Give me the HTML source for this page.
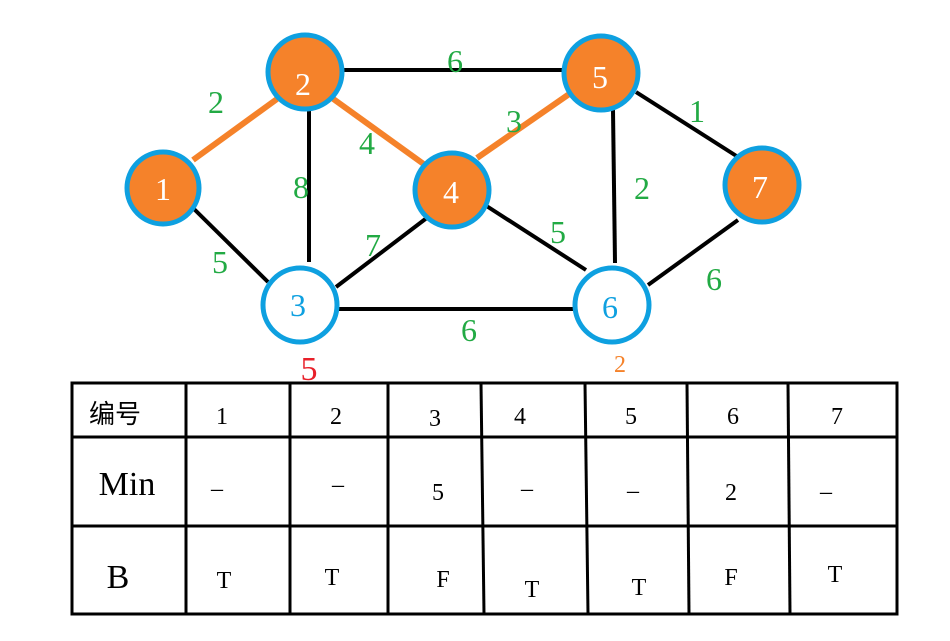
<!DOCTYPE html>
<html><head><meta charset="utf-8"><style>body{margin:0;background:#fff}svg{display:block}</style></head><body>
<svg width="950" height="641" xmlns="http://www.w3.org/2000/svg" font-family="Liberation Serif, Noto Serif CJK SC, serif">
<g stroke="#000" stroke-width="4">
<line x1="344" y1="70" x2="566" y2="70"/>
<line x1="309" y1="110" x2="309" y2="262"/>
<line x1="193" y1="208" x2="268" y2="282"/>
<line x1="336" y1="287" x2="428" y2="217"/>
<line x1="336" y1="309" x2="578" y2="309"/>
<line x1="485" y1="205" x2="586" y2="270"/>
<line x1="613" y1="110" x2="615" y2="263"/>
<line x1="636" y1="92" x2="738" y2="157"/>
<line x1="648" y1="285" x2="738" y2="220"/>
</g>
<g stroke="#f5822a" stroke-width="6">
<line x1="193" y1="160" x2="277" y2="99"/>
<line x1="332" y1="98" x2="425" y2="165"/>
<line x1="477" y1="158" x2="575" y2="90"/>
</g>
<g stroke="#0ea0e0" stroke-width="5">
<circle cx="163" cy="188" r="36" fill="#f5822a"/>
<circle cx="305" cy="72" r="37" fill="#f5822a"/>
<circle cx="300" cy="305" r="37" fill="#fff"/>
<circle cx="452" cy="190" r="37" fill="#f5822a"/>
<circle cx="601" cy="73" r="37" fill="#f5822a"/>
<circle cx="612" cy="305" r="37" fill="#fff"/>
<circle cx="762" cy="185" r="37" fill="#f5822a"/>
</g>
<g font-size="32" fill="#0ea0e0" text-anchor="middle">
<text x="163" y="200" fill="#fff">1</text>
<text x="303" y="95" fill="#fff">2</text>
<text x="298" y="316">3</text>
<text x="451" y="203" fill="#fff">4</text>
<text x="600" y="88" fill="#fff">5</text>
<text x="610" y="318">6</text>
<text x="760" y="198" fill="#fff">7</text>
</g>
<g font-size="32" fill="#22aa44" text-anchor="middle">
<text x="216" y="113">2</text>
<text x="455" y="72">6</text>
<text x="367" y="154">4</text>
<text x="301" y="198">8</text>
<text x="514" y="132">3</text>
<text x="697" y="122">1</text>
<text x="642" y="199">2</text>
<text x="220" y="273">5</text>
<text x="373" y="256">7</text>
<text x="558" y="243">5</text>
<text x="714" y="290">6</text>
<text x="469" y="341">6</text>
</g>
<text x="309" y="380" font-size="34" fill="#e8202a" text-anchor="middle">5</text>
<text x="620" y="372" font-size="24" fill="#f5822a" text-anchor="middle">2</text>
<g stroke="#000" stroke-width="3" fill="none">
<rect x="72" y="383" width="825" height="231"/>
<line x1="72" y1="437" x2="897" y2="437"/>
<line x1="72" y1="526" x2="897" y2="526"/>
<line x1="186" y1="383" x2="186" y2="614"/>
<line x1="290" y1="383" x2="290" y2="614"/>
<line x1="388" y1="383" x2="388" y2="614"/>
<line x1="481" y1="383" x2="484" y2="614"/>
<line x1="585" y1="383" x2="588" y2="614"/>
<line x1="687" y1="383" x2="689" y2="614"/>
<line x1="788" y1="383" x2="790" y2="614"/>
</g>
<g font-size="24" fill="#000" text-anchor="middle">
<text x="115" y="423" font-size="26" font-family="Liberation Sans, Noto Sans CJK SC, sans-serif">编号</text>
<text x="222" y="424">1</text><text x="336" y="424">2</text><text x="435" y="426">3</text>
<text x="520" y="424">4</text><text x="631" y="424">5</text><text x="733" y="424">6</text><text x="837" y="424">7</text>
<text x="127" y="495" font-size="34">Min</text>
<text x="217" y="496">–</text><text x="338" y="492">–</text><text x="438" y="500">5</text>
<text x="527" y="496">–</text><text x="633" y="498">–</text><text x="731" y="500">2</text><text x="826" y="499">–</text>
<text x="118" y="588" font-size="34">B</text>
<text x="224" y="588">T</text><text x="332" y="585">T</text><text x="443" y="587">F</text>
<text x="532" y="597">T</text><text x="639" y="595">T</text><text x="731" y="585">F</text><text x="835" y="582">T</text>
</g>
</svg>
</body></html>
